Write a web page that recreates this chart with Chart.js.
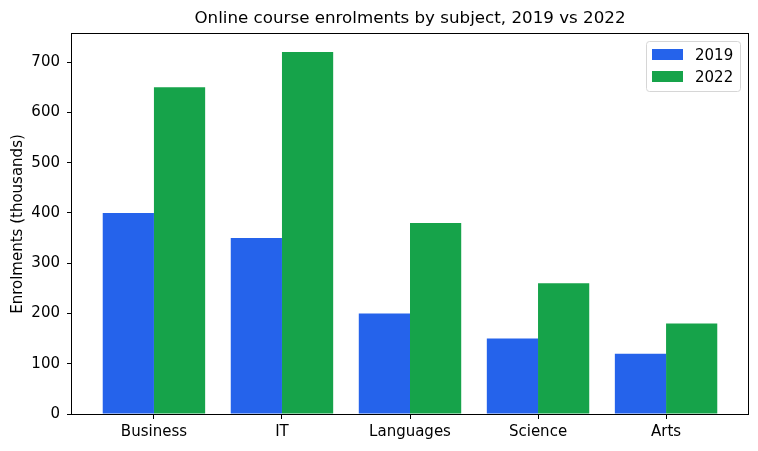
<!DOCTYPE html>
<html><head><meta charset="utf-8">
<script src="https://cdn.jsdelivr.net/npm/chart.js@4/dist/chart.umd.min.js"></script>
<style>html,body{margin:0;padding:0;background:#fff}#wrap{width:758px;height:451px}</style>
</head><body><div id="wrap"><canvas id="c" width="758" height="451"></canvas></div>
<script>
const categories = ['Business', 'IT', 'Languages', 'Science', 'Arts'];
const values2019 = [400, 350, 200, 150, 120];
const values2022 = [650, 720, 380, 260, 180];
const yTicks = [0, 100, 200, 300, 400, 500, 600, 700];
const seriesLabels = ['2019', '2022'];
const seriesColors = ['#2563eb', '#16a34a'];
const chartTitle = 'Online course enrolments by subject, 2019 vs 2022';

const FONT = 'DejaVu Sans';
Chart.defaults.font.family = FONT;
Chart.defaults.color = '#000';

const framePlugin = {
  id: 'frame',
  afterDraw(chart) {
    const {ctx, chartArea: a} = chart;
    ctx.save();
    ctx.strokeStyle = '#000'; ctx.lineWidth = 1;
    ctx.strokeRect(Math.round(a.left) - 0.5, Math.round(a.top) - 0.5, Math.round(a.right - a.left) + 1, Math.round(a.bottom - a.top) + 1);
    // title centred over plot area
    ctx.fillStyle = '#000';
    ctx.font = '16.7px ' + FONT; ctx.textAlign = 'center'; ctx.textBaseline = 'middle';
    ctx.fillText(chartTitle, (a.left + a.right) / 2, 18.5);
    // legend
    const bx = 646, by = 41, bw = 94, bh = 50, r = 3;
    ctx.beginPath();
    ctx.roundRect(bx + 0.5, by + 0.5, bw, bh, r);
    ctx.fillStyle = 'rgba(255,255,255,0.8)'; ctx.fill();
    ctx.strokeStyle = '#d6d6d6'; ctx.stroke();
    ctx.font = '15px ' + FONT; ctx.textBaseline = 'middle'; ctx.textAlign = 'left';
    chart.data.datasets.forEach((ds, i) => {
      const y = by + 8 + i * 22;
      ctx.fillStyle = ds.backgroundColor;
      ctx.fillRect(bx + 6, y, 31, 11);
      ctx.fillStyle = '#000';
      ctx.fillText(ds.label, bx + 49, y + 7);
    });
    ctx.restore();
  }
};

new Chart(document.getElementById('c'), {
  type: 'bar',
  data: {
    datasets: [
      { label: seriesLabels[0], data: values2019.map((v, i) => ({x: i, y: v})), backgroundColor: seriesColors[0], borderWidth: 0 },
      { label: seriesLabels[1], data: values2022.map((v, i) => ({x: i, y: v})), backgroundColor: seriesColors[1], borderWidth: 0 }
    ]
  },
  options: {
    responsive: false,
    animation: false,
    categoryPercentage: 0.8,
    barPercentage: 1.0,
    layout: { padding: { left: 0, right: 10, top: 34, bottom: 0 } },
    plugins: {
      legend: { display: false },
      tooltip: { enabled: false },
      title: { display: false }
    },
    scales: {
      x: {
        type: 'linear',
        offset: false,
        min: -0.64, max: 4.64,
        afterBuildTicks: s => { s.ticks = categories.map((_, i) => ({ value: i })); },
        afterFit: s => { s.height = 37; },
        ticks: { callback: v => categories[v], font: { size: 15 }, padding: 4, maxRotation: 0, autoSkip: false },
        grid: { display: true, drawOnChartArea: false, drawTicks: true, tickLength: 5, color: '#000', offset: false },
        border: { display: false }
      },
      y: {
        min: 0, max: 756,
        afterBuildTicks: s => { s.ticks = yTicks.map(v => ({ value: v })); },
        afterFit: s => { s.width = 72; },
        ticks: { font: { size: 15 }, padding: 7 },
        grid: { display: true, drawOnChartArea: false, drawTicks: true, tickLength: 5, color: '#000' },
        border: { display: false },
        title: { display: true, text: 'Enrolments (thousands)', font: { size: 15 }, padding: { top: 9, bottom: 4 } }
      }
    }
  },
  plugins: [framePlugin]
});
</script></body></html>
